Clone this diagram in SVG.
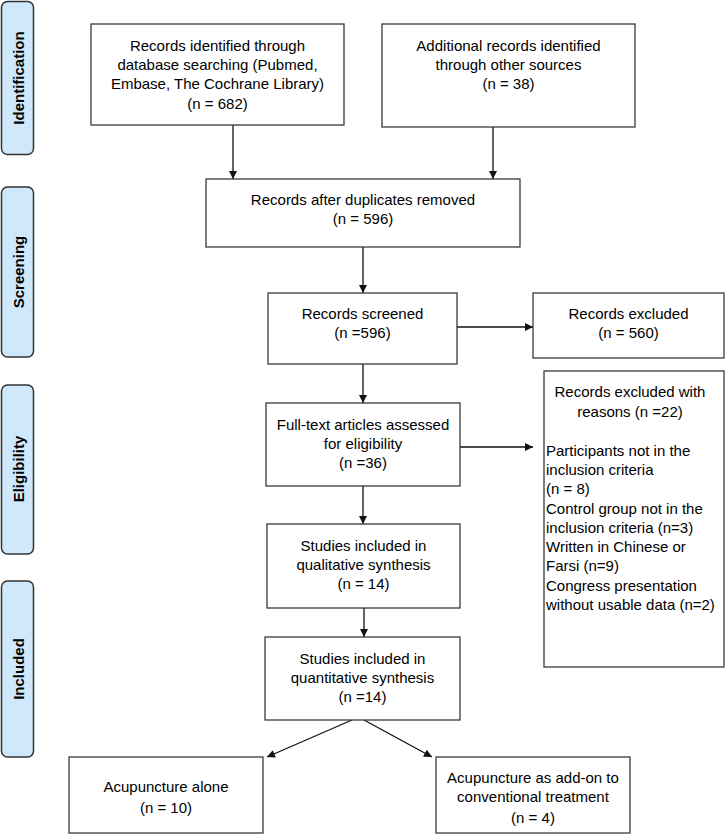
<svg xmlns="http://www.w3.org/2000/svg" width="726" height="835" viewBox="0 0 726 835">
<style>
.box{fill:#fff;stroke:#3a3a3a;stroke-width:1.3}
.side{fill:#cfe8fb;stroke:#333;stroke-width:1.5}
.t{font-family:"Liberation Sans",Arial,sans-serif;font-size:15px;fill:#000;text-anchor:middle}
.l{text-anchor:start}
.s{font-family:"Liberation Sans",Arial,sans-serif;font-size:15px;font-weight:bold;fill:#000;text-anchor:middle}
.c{stroke:#111;stroke-width:1.3;fill:none;marker-end:url(#ah)}
</style>
<defs>
<marker id="ah" viewBox="0 0 10 10" refX="10" refY="5" markerWidth="9" markerHeight="8" markerUnits="userSpaceOnUse" orient="auto">
<path d="M0,0 L10,5 L0,10 z" fill="#111"/>
</marker>
</defs>
<rect width="726" height="835" fill="#fff"/>
<g id="phase-identification"><rect class="side" x="1.5" y="1.5" width="32" height="153" rx="6"/><text class="s" transform="translate(23.5,78) rotate(-90)">Identification</text></g>
<g id="phase-screening"><rect class="side" x="1.5" y="187" width="32" height="170" rx="6"/><text class="s" transform="translate(23.5,272) rotate(-90)">Screening</text></g>
<g id="phase-eligibility"><rect class="side" x="1.5" y="385" width="32" height="169" rx="6"/><text class="s" transform="translate(23.5,469) rotate(-90)">Eligibility</text></g>
<g id="phase-included"><rect class="side" x="1.5" y="581" width="32" height="176" rx="6"/><text class="s" transform="translate(23.5,669) rotate(-90)">Included</text></g>

<g id="connectors">
<line class="c" x1="233" y1="125" x2="233" y2="179"/>
<line class="c" x1="493" y1="127" x2="493" y2="179"/>
<line class="c" x1="363" y1="247" x2="363" y2="293"/>
<line class="c" x1="457" y1="327" x2="533" y2="327"/>
<line class="c" x1="363" y1="364" x2="363" y2="403"/>
<line class="c" x1="460" y1="447" x2="533" y2="447"/>
<line class="c" x1="363" y1="486" x2="363" y2="524"/>
<line class="c" x1="364" y1="608" x2="364" y2="637"/>
<line class="c" x1="352" y1="720" x2="267" y2="757"/>
<line class="c" x1="364" y1="720" x2="432" y2="757"/>
</g>

<g id="n1"><rect class="box" x="91" y="24" width="253" height="101"/>
<text class="t" x="217.5" y="51">Records identified through</text>
<text class="t" x="217.5" y="70">database searching (Pubmed,</text>
<text class="t" x="217.5" y="89">Embase, The Cochrane Library)</text>
<text class="t" x="217.5" y="109">(n = 682)</text></g>
<g id="n2"><rect class="box" x="382" y="24" width="253" height="103"/>
<text class="t" x="508.5" y="51">Additional records identified</text>
<text class="t" x="508.5" y="70">through other sources</text>
<text class="t" x="508.5" y="89">(n = 38)</text></g>
<g id="n3"><rect class="box" x="206" y="179" width="314" height="68"/>
<text class="t" x="363" y="205">Records after duplicates removed</text>
<text class="t" x="363" y="224">(n = 596)</text></g>
<g id="n4"><rect class="box" x="268" y="293" width="189" height="71"/>
<text class="t" x="362.5" y="319">Records screened</text>
<text class="t" x="362.5" y="338">(n =596)</text></g>
<g id="n5"><rect class="box" x="533" y="293" width="191" height="65"/>
<text class="t" x="628.5" y="319">Records excluded</text>
<text class="t" x="628.5" y="338">(n = 560)</text></g>
<g id="n6"><rect class="box" x="266" y="403" width="194" height="83"/>
<text class="t" x="363" y="430">Full-text articles assessed</text>
<text class="t" x="363" y="449">for eligibility</text>
<text class="t" x="363" y="468">(n =36)</text></g>
<g id="n7"><rect class="box" x="544" y="371" width="180" height="296"/>
<text class="t" x="630" y="397">Records excluded with</text>
<text class="t" x="630" y="417">reasons (n =22)</text>
<text class="t l" x="546" y="456">Participants not in the</text>
<text class="t l" x="546" y="475">inclusion criteria</text>
<text class="t l" x="546" y="494">(n = 8)</text>
<text class="t l" x="546" y="514">Control group not in the</text>
<text class="t l" x="546" y="533">inclusion criteria (n=3)</text>
<text class="t l" x="546" y="552">Written in Chinese or</text>
<text class="t l" x="546" y="571">Farsi (n=9)</text>
<text class="t l" x="546" y="591">Congress presentation</text>
<text class="t l" x="546" y="610">without usable data (n=2)</text></g>
<g id="n8"><rect class="box" x="267" y="524" width="193" height="84"/>
<text class="t" x="363.5" y="551">Studies included in</text>
<text class="t" x="363.5" y="570">qualitative synthesis</text>
<text class="t" x="363.5" y="589">(n = 14)</text></g>
<g id="n9"><rect class="box" x="265" y="637" width="195" height="83"/>
<text class="t" x="362.5" y="664">Studies included in</text>
<text class="t" x="362.5" y="683">quantitative synthesis</text>
<text class="t" x="362.5" y="702">(n =14)</text></g>
<g id="n10"><rect class="box" x="69" y="757" width="194" height="76"/>
<text class="t" x="166" y="792">Acupuncture alone</text>
<text class="t" x="166" y="813">(n = 10)</text></g>
<g id="n11"><rect class="box" x="436" y="757" width="194" height="76"/>
<text class="t" x="533" y="783">Acupuncture as add-on to</text>
<text class="t" x="533" y="802">conventional treatment</text>
<text class="t" x="533" y="823">(n = 4)</text></g>
</svg>
